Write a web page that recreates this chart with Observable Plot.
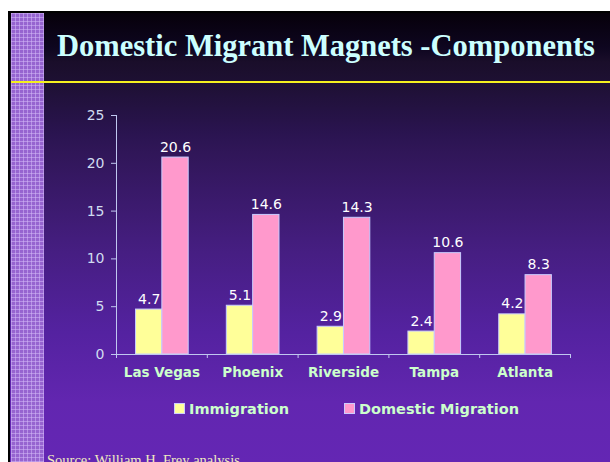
<!DOCTYPE html>
<html>
<head>
<meta charset="utf-8">
<script src="https://cdn.jsdelivr.net/npm/d3@7"></script>
<script src="https://cdn.jsdelivr.net/npm/@observablehq/plot@0.6"></script>
<style>
  html, body { margin: 0; padding: 0; background: #ffffff; width: 610px; height: 462px; overflow: hidden; }
  #slide { position: absolute; left: 8px; top: 11px; width: 602px; height: 451px;
    background: linear-gradient(to bottom, #06000a 0px, #0e0620 35px, #1a0e2a 49px, #1e1034 71px, #2a1450 120px, #301658 139px, #461e82 239px, #5422a0 319px, #6226b0 389px, #6426b4 451px);
    border-left: 2px solid #000; border-top: 2px solid #000; box-sizing: border-box; overflow: hidden; }
  #strip { position: absolute; left: 11px; top: 13px; width: 33px; height: 449px;
    background-color: #9664d0;
    background-image: linear-gradient(to right, rgba(215,190,250,0.5) 1px, transparent 1px),
                      linear-gradient(to bottom, rgba(215,190,250,0.5) 1px, transparent 1px);
    background-size: 4px 4px; }
  #title { position: absolute; left: 57px; top: 28px; font-family: "Liberation Serif", serif; font-weight: bold;
    font-size: 30.5px; color: #ccffff; white-space: nowrap; line-height: 36px; }
  #rule { position: absolute; left: 11px; top: 81px; width: 599px; height: 2px; background: #f4f020; }
  #chart { position: absolute; left: 0; top: 90px; }
  .leg { position: absolute; font-family: "DejaVu Sans", sans-serif; font-weight: bold; font-size: 14.5px; color: #ccffcc; white-space: nowrap; line-height: 16px; }
  .sw { position: absolute; width: 9px; height: 9px; border: 1px solid #ccccff; }
  #source { position: absolute; left: 47px; top: 451px; font-family: "Liberation Serif", serif; font-size: 14.5px; color: #f0ecc0; white-space: nowrap; line-height: 18px; }
</style>
</head>
<body>
<div id="slide"></div>
<div id="strip"></div>
<div id="title">Domestic Migrant Magnets -Components</div>
<div id="rule"></div>
<div id="chart"></div>
<div class="sw" style="left:174px; top:403px; background:#ffff99;"></div>
<div class="leg" style="left:189px; top:401px;">Immigration</div>
<div class="sw" style="left:344px; top:403px; background:#ff99cc;"></div>
<div class="leg" style="left:359px; top:401px;">Domestic Migration</div>
<div id="source">Source: William H. Frey analysis</div>
<script>
const categories = ["Las Vegas", "Phoenix", "Riverside", "Tampa", "Atlanta"];
const immigration = [4.7, 5.1, 2.9, 2.4, 4.2];
const domesticMigration = [20.6, 14.6, 14.3, 10.6, 8.3];
const yTicks = [0, 5, 10, 15, 20, 25];
const seriesNames = ["Immigration", "Domestic Migration"];
const seriesColors = ["#ffff99", "#ff99cc"];

const rows = [];
categories.forEach((c, i) => {
  rows.push({i, cat: c, series: seriesNames[0], value: immigration[i], s: 0});
  rows.push({i, cat: c, series: seriesNames[1], value: domesticMigration[i], s: 1});
});
const barStart = [0.215, 0.505];
const barEnd = [0.505, 0.795];
const catIdx = categories.map((c, i) => i);
const bounds = d3.range(categories.length + 1);

const axisColor = "#c0c8f0";
const plot = Plot.plot({
  width: 610,
  height: 300,
  marginLeft: 116,
  marginRight: 40,
  marginTop: 25,
  marginBottom: 36,
  style: {background: "transparent", color: "#d0dcf0", fontFamily: "DejaVu Sans, sans-serif", fontSize: "14px"},
  x: {type: "linear", domain: [0, categories.length], axis: null},
  y: {domain: [0, 25], axis: null},
  color: {domain: seriesNames, range: seriesColors},
  marks: [
    Plot.rectY(rows, {
      x1: d => d.i + barStart[d.s],
      x2: d => d.i + barEnd[d.s],
      y1: 0,
      y2: "value",
      fill: "series",
      stroke: "#c8ccff",
      strokeWidth: 1
    }),
    Plot.ruleY([0], {x1: 0, x2: categories.length, stroke: axisColor}),
    Plot.ruleX([0], {y1: 0, y2: 25, stroke: axisColor}),
    Plot.axisY({ticks: yTicks, label: null, tickSize: 5, tickPadding: 7, stroke: axisColor, fill: "#d0dcf0", fontSize: 14}),
    Plot.axisX({ticks: bounds, label: null, tickSize: 4, tickFormat: () => "", stroke: axisColor}),
    Plot.text(catIdx, {
      x: i => i + 0.5,
      y: 0,
      text: i => categories[i],
      dy: 18,
      fill: "#ccffcc",
      fontWeight: "bold",
      fontSize: 13.5
    }),
    Plot.text(rows, {
      x: d => d.i + (barStart[d.s] + barEnd[d.s]) / 2,
      y: "value",
      text: d => d.value.toFixed(1),
      lineAnchor: "bottom",
      dy: -6,
      fill: "#ffffff",
      fontSize: 14
    })
  ]
});
document.getElementById("chart").appendChild(plot);
</script>
</body>
</html>
